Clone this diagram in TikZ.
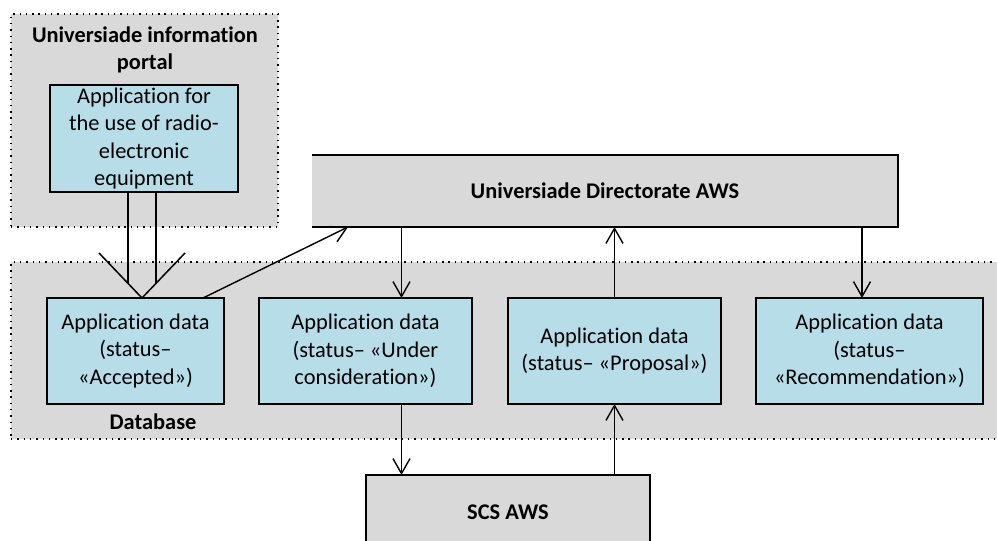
\documentclass[tikz,border=0pt]{standalone}
\usepackage{fontspec}
\setmainfont{Carlito}[Ligatures=NoCommon]
\usetikzlibrary{arrows.meta,calc}
\definecolor{boxgray}{HTML}{D9D9D9}
\definecolor{boxblue}{HTML}{B7DDE8}
\begin{document}
\begin{tikzpicture}[x=0.5pt,y=-0.5pt,
  txt/.style={font=\fontsize{11.2}{13.75}\selectfont, align=center},
  btxt/.style={font=\fontsize{11.2}{13.5}\selectfont\bfseries, align=center},
  dotbox/.style={fill=boxgray, draw=black, line width=0.7pt, dash pattern=on 0.7pt off 2.45pt, inner sep=0pt, outer sep=0pt},
  bluebox/.style={draw=black, fill=boxblue, line width=0.8pt, inner sep=0pt, outer sep=0pt, txt},
  graybox/.style={fill=boxgray, draw=black, line width=0.8pt, inner sep=0pt, outer sep=0pt, btxt},
  arr/.style={line width=0.7pt, -{Straight Barb[length=7.5pt,width=8.5pt,line width=0.7pt]}},
  dbl/.style={line width=0.75pt}
]
\clip (0,0) rectangle (997,541);
\fill[white] (0,0) rectangle (997,541);

% containers
\node[dotbox, minimum width=133.5pt, minimum height=106.5pt] (portal) at (144.5,120.5) {};
\node[btxt] (portaltitle) at (145,50) {Universiade information\\portal};
\node[dotbox, minimum width=497pt, minimum height=88.5pt] (db) at (508,350.5) {};
\node[btxt] (dblabel) at (153,422) {Database};

% portal application
\node[bluebox, minimum width=94pt, minimum height=53.5pt] (app) at (144,138.5)
  {Application for\\the use of radio-\\electronic\\equipment};

% data boxes
\node[bluebox, minimum width=88.5pt, minimum height=53pt] (acc) at (135.5,351)
  {Application data\\(status–\\«Accepted»)};
\node[bluebox, minimum width=106.5pt, minimum height=53pt] (und) at (365.5,351)
  {Application data\\(status– «Under\\consideration»)};
\node[bluebox, minimum width=106.5pt, minimum height=53pt] (pro) at (614.5,351)
  {Application data\\(status– «Proposal»)};
\node[bluebox, minimum width=113.5pt, minimum height=53pt] (rec) at (869.5,351)
  {Application data\\(status–\\«Recommendation»)};

% AWS boxes
\node[fill=boxgray, inner sep=0pt, outer sep=0pt, btxt, minimum width=293pt, minimum height=36pt] (dir) at (605,191)
  {Universiade Directorate AWS};
\draw[line width=0.8pt] (dir.north west) -- (dir.north east) -- (dir.south east) -- (dir.south west);
\node[graybox, minimum width=142pt, minimum height=37pt] (scs) at (508,512) {SCS AWS};

% wide arrow from application to accepted data
\coordinate (tip) at ($(acc.north)+(6.5,0)$);
\coordinate (vl) at ($(tip)+(-14,-14.65)$);
\coordinate (vr) at ($(tip)+(14,-14.65)$);
\draw[dbl] ($(tip)+(-43,-45)$) -- (tip) -- ($(tip)+(43,-45)$);
\draw[dbl] (app.south -| vl) -- (vl);
\draw[dbl] (app.south -| vr) -- (vr);

% connectors
\coordinate (accout) at ($(acc.north)+(67.5,0)$);
\coordinate (dirin) at ($(dir.south west)+(36,0)$);
\draw[arr] (accout) -- (dirin);

\coordinate (undin) at ($(und.north)+(36,0)$);
\draw[arr] (dir.south -| undin) -- (undin);
\draw[arr] (pro.north) -- (pro.north |- dir.south);
\coordinate (recin) at ($(rec.north)+(-7.5,0)$);
\draw[arr] (dir.south -| recin) -- (recin);

\coordinate (undout) at ($(und.south)+(36,0)$);
\draw[arr] (undout) -- (scs.north -| undout);
\draw[arr] (scs.north -| pro.south) -- (pro.south);
\end{tikzpicture}
\end{document}
